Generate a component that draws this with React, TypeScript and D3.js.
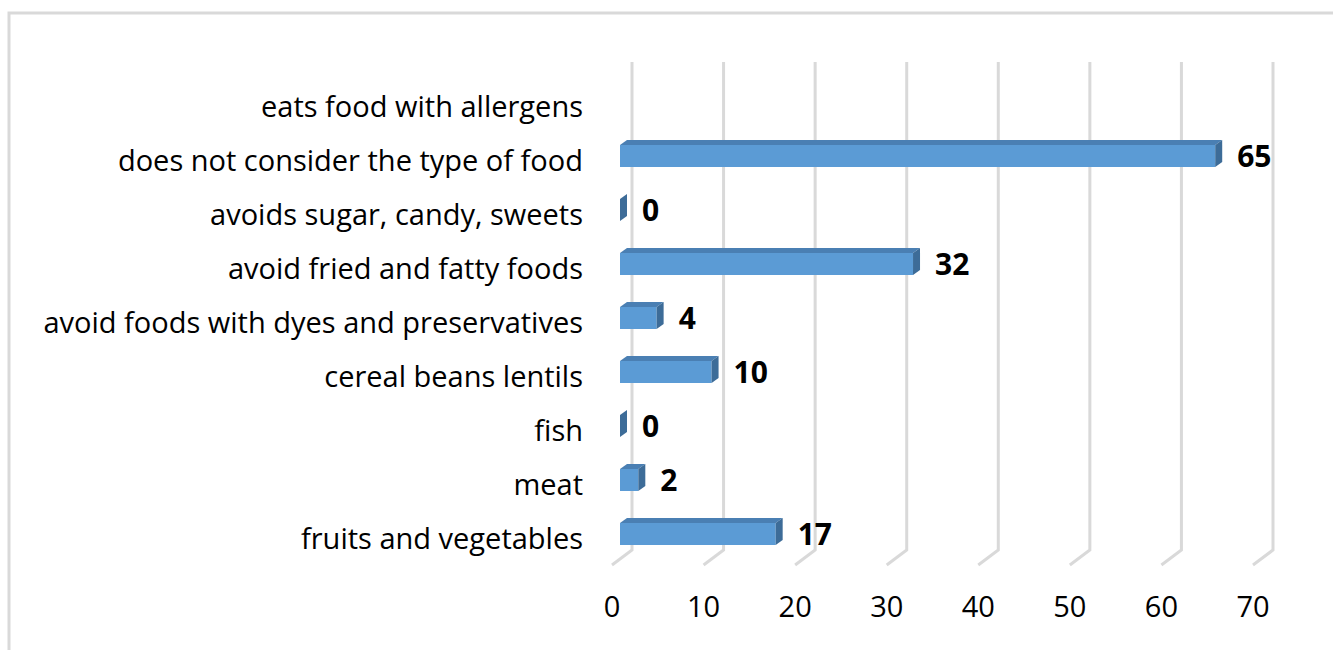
import React from "react";
import * as d3 from "d3";

const categories = [
  "fruits and vegetables",
  "meat",
  "fish",
  "cereal beans lentils",
  "avoid foods with dyes and preservatives",
  "avoid fried and fatty foods",
  "avoids sugar, candy, sweets",
  "does not consider the type of food",
  "eats food with allergens",
];
const values: (number | null)[] = [17, 2, 0, 10, 4, 32, 0, 65, null];
const ticks = [0, 10, 20, 30, 40, 50, 60, 70];

const W = 1333;
const H = 650;
const FONT = "'Open Sans', 'Noto Sans', sans-serif";

export default function App() {
  const xBack = d3.scaleLinear().domain([0, 70]).range([632, 1273]);
  const xFront = d3.scaleLinear().domain([0, 70]).range([612, 1253]);
  const xBar = d3.scaleLinear().domain([0, 70]).range([620, 1261]);
  // band scale: bottom category at the bottom
  const y = d3
    .scaleBand<string>()
    .domain([...categories].reverse())
    .range([80, 566])
    .paddingInner(0)
    .paddingOuter(0);
  const center = (c: string) => (y(c) as number) + y.bandwidth() / 2 - 5;

  const wallTop = 62;
  const wallBottom = 550;
  const floorDy = 15;
  const barH = 22;
  const dx = 7;
  const dy = 5;

  return (
    <svg width={W} height={H} style={{ position: "absolute", left: 0, top: 0, background: "#fff" }}>
      <rect x={9} y={13} width={W} height={H} fill="#fff" stroke="#d9d9d9" strokeWidth={3} />
      {/* gridlines */}
      {ticks.map((t) => (
        <polyline
          key={"g" + t}
          points={`${xBack(t)},${wallTop} ${xBack(t)},${wallBottom} ${xFront(t)},${wallBottom + floorDy}`}
          fill="none"
          stroke="#d9d9d9"
          strokeWidth={3}
        />
      ))}
      {/* tick labels */}
      {ticks.map((t) => (
        <text
          key={"t" + t}
          x={xFront(t)}
          y={609}
          textAnchor="middle"
          dominantBaseline="middle"
          fontFamily={FONT}
          fontSize={29}
          fill="#000"
        >
          {t}
        </text>
      ))}
      {/* category labels */}
      {categories.map((c) => (
        <text
          key={"c" + c}
          x={583}
          y={center(c) + 7}
          textAnchor="end"
          dominantBaseline="middle"
          fontFamily={FONT}
          fontSize={29}
          fill="#000"
        >
          {c}
        </text>
      ))}
      {/* bars */}
      {categories.map((c, i) => {
        const v = values[i];
        if (v === null) return null;
        const cy = center(c);
        const x0 = xBar(0);
        const x1 = xBar(v);
        const yt = cy - barH / 2;
        const yb = cy + barH / 2;
        return (
          <g key={"b" + c}>
            <polygon
              points={`${x0},${yt} ${x0 + dx},${yt - dy} ${x1 + dx},${yt - dy} ${x1},${yt}`}
              fill="#4a7fb3"
            />
            <rect x={x0} y={yt} width={x1 - x0} height={barH} fill="#5b9bd5" />
            <polygon
              points={`${x1},${yt} ${x1 + dx},${yt - dy} ${x1 + dx},${yb - dy} ${x1},${yb}`}
              fill="#3d6c98"
            />
            <text
              x={x1 + dx + 15}
              y={cy + 3}
              dominantBaseline="middle"
              fontFamily={FONT}
              fontWeight={700}
              fontSize={30}
              fill="#000"
            >
              {v}
            </text>
          </g>
        );
      })}
    </svg>
  );
}
